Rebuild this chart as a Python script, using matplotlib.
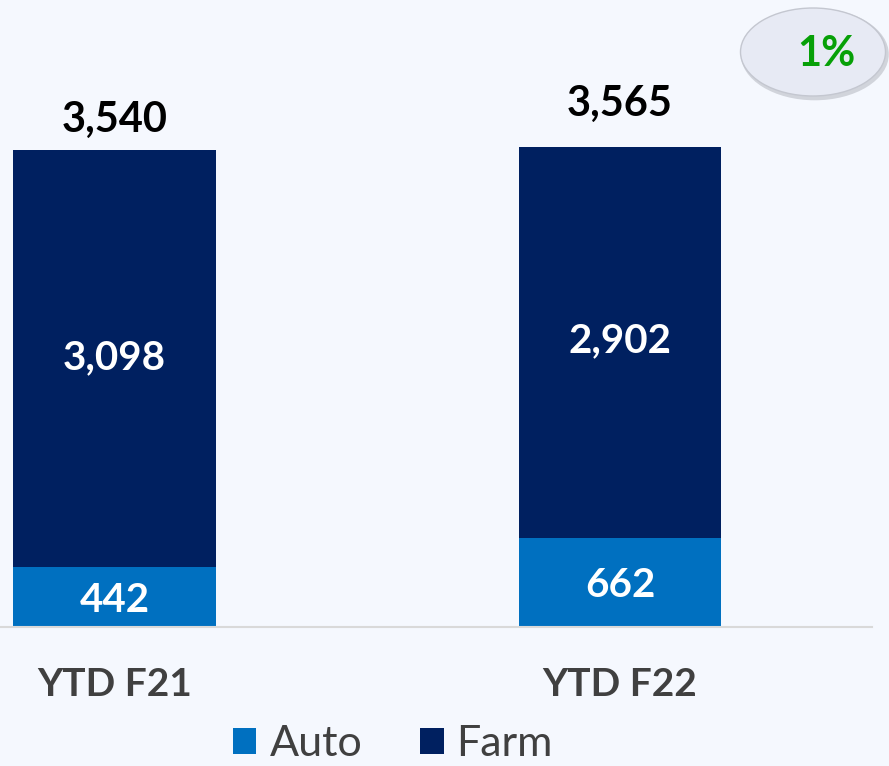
import numpy as np
import matplotlib.pyplot as plt
from matplotlib.patches import Ellipse

# Data
categories = ["YTD F21", "YTD F22"]
auto = [442, 662]
farm = [3098, 2902]
totals = [3540, 3565]
growth_label = "1%"

# Colours
bg = "#F5F8FE"
c_auto = "#0070C0"
c_farm = "#002060"
c_text = "#404040"

plt.rcParams['font.family'] = ['Lato', 'DejaVu Sans']

fig = plt.figure(figsize=(8.89, 7.66), dpi=100, facecolor=bg)
# axes spans baseline (y=627px) up to the top of the figure
ax = fig.add_axes([0, (766 - 627) / 766, 872 / 889, 627 / 766])
ax.set_facecolor(bg)

x = np.arange(len(categories))
width = 0.4
ax.bar(x, auto, width, color=c_auto, label="Auto", linewidth=0)
ax.bar(x, farm, width, bottom=auto, color=c_farm, label="Farm", linewidth=0)

ax.set_xlim(-0.2265, 1.4985)
ax.set_ylim(0, 4655)

for s in ["top", "left", "right"]:
    ax.spines[s].set_visible(False)
ax.spines["bottom"].set_color("#D9D9D9")
ax.spines["bottom"].set_linewidth(1.5)
ax.set_yticks([])
ax.set_xticks(x)
ax.set_xticklabels(categories, fontsize=28, fontweight="bold", color=c_text)
ax.tick_params(axis="x", length=0, pad=29)

# segment labels
for i in range(len(categories)):
    ax.text(x[i], auto[i] / 2 - 22, f"{auto[i]:,}", ha="center", va="center",
            fontsize=29, fontweight="bold", color="white")
    ax.text(x[i], auto[i] + farm[i] / 2 + 10, f"{farm[i]:,}", ha="center", va="center",
            fontsize=29, fontweight="bold", color="white")

# totals above bars
tot_offsets = [30, 43]
for i in range(len(categories)):
    ax.annotate(f"{totals[i]:,}", (x[i], totals[i]), xytext=(0, tot_offsets[i] * 0.72),
                textcoords="offset points", ha="center", va="center",
                fontsize=30, fontweight="bold", color="black")

# growth bubble
cx, cy = 813 / 889, 1 - 52 / 766
shadow = Ellipse((cx + 0.002, cy - 0.003), 148 / 889, 92 / 766, transform=fig.transFigure,
                 facecolor="#C8CBD3", edgecolor="none", alpha=0.8, zorder=3)
bubble = Ellipse((cx, cy), 145 / 889, 88 / 766, transform=fig.transFigure,
                 facecolor="#E7EAF4", edgecolor="#C4C7D0", linewidth=1, zorder=4)
fig.patches.append(shadow)
fig.patches.append(bubble)
fig.text(826 / 889, 1 - 54 / 766, growth_label, ha="center", va="center",
         fontsize=30, fontweight="bold", color="#07A007", zorder=5)

# legend
fig.legend(loc="center", bbox_to_anchor=(393 / 889, 1 - 744 / 766), ncol=2,
           frameon=False, fontsize=31, handlelength=0.54, handleheight=0.54,
           handletextpad=0.3, columnspacing=1.35, labelcolor=c_text,
           borderpad=0, borderaxespad=0)

fig.savefig("out.png", dpi=100, facecolor=bg)
